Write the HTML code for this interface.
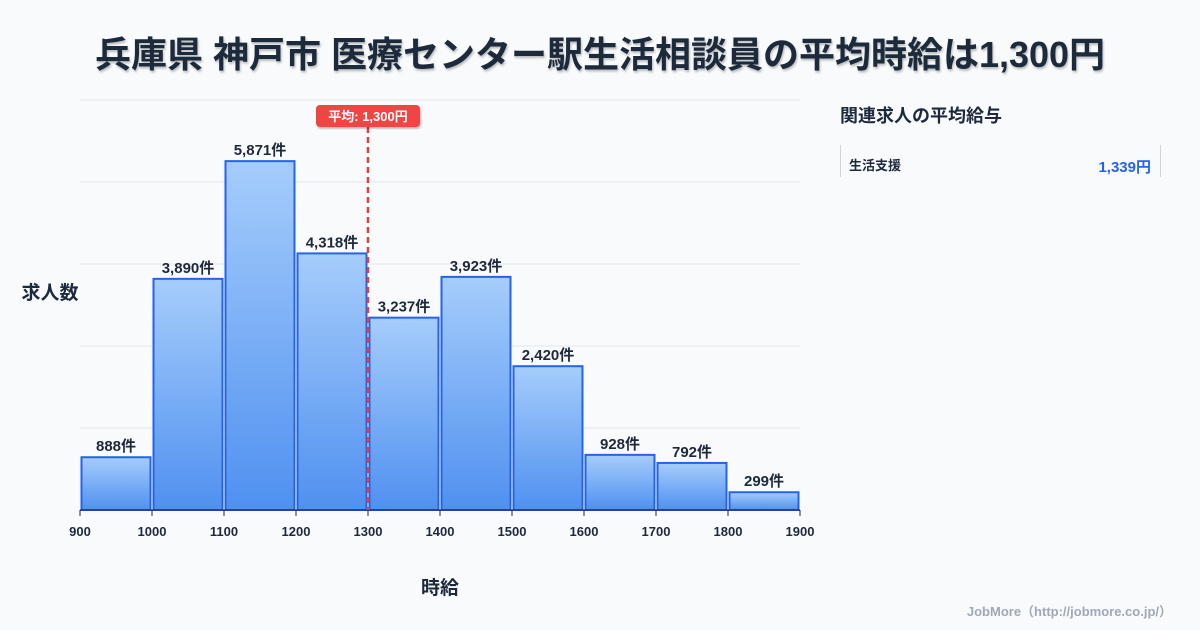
<!DOCTYPE html>
<html><head><meta charset="utf-8"><style>
body{margin:0;width:1200px;height:630px;background:#f8fafc;font-family:"Liberation Sans","Noto Sans CJK JP",sans-serif;overflow:hidden}
svg{position:absolute;left:0;top:0}
</style></head><body>
<svg id="c" width="1200" height="630">
<defs><linearGradient id="g" x1="0" y1="0" x2="0" y2="1"><stop offset="0" stop-color="#a6cdfb"/><stop offset="1" stop-color="#4f90f0"/></linearGradient>
<filter id="sh"><feDropShadow dx="1" dy="2" stdDeviation="1" flood-color="#000" flood-opacity="0.25"/></filter></defs>
<text x="600" y="67" text-anchor="middle" font-size="36" font-weight="bold" fill="#1e293b" filter="url(#sh)">兵庫県 神戸市 医療センター駅生活相談員の平均時給は1,300円</text>
<text x="50" y="299" text-anchor="middle" font-size="19" font-weight="bold" fill="#1e293b">求人数</text>
<text x="440" y="594" text-anchor="middle" font-size="19" font-weight="bold" fill="#1e293b">時給</text>
<text x="840" y="122" font-size="18" font-weight="bold" fill="#1e293b">関連求人の平均給与</text>
<line x1="840.5" y1="145" x2="840.5" y2="177" stroke="#cbd5e1"/>
<line x1="1160.5" y1="145" x2="1160.5" y2="177" stroke="#cbd5e1"/>
<text x="849" y="170" font-size="13" font-weight="bold" fill="#1e293b">生活支援</text>
<text x="1151" y="172" text-anchor="end" font-size="15" font-weight="bold" fill="#2563eb">1,339円</text>
<text x="1172" y="616" text-anchor="end" font-size="13" font-weight="bold" fill="#a0a8b4">JobMore（http://jobmore.co.jp/）</text>
<g id="plot"></g>
</svg>
<script>
const bins=[900,1000,1100,1200,1300,1400,1500,1600,1700,1800];
const counts=[888,3890,5871,4318,3237,3923,2420,928,792,299];
const xTicks=[900,1000,1100,1200,1300,1400,1500,1600,1700,1800,1900];
const avg=1300;
const avgLabel="平均: 1,300円";
const yMax=6900, yGridStep=1380;
const NS="http://www.w3.org/2000/svg";
const x=v=>80+(v-900)*0.72;
const y=v=>510-v*410/yMax;
const g=document.getElementById('plot');
function mk(t,a){const e=document.createElementNS(NS,t);for(const k in a)e.setAttribute(k,a[k]);g.appendChild(e);return e;}
for(let v=yGridStep;v<=yMax+1;v+=yGridStep){
 const l=mk('line',{x1:80,x2:800,y1:y(v),y2:y(v),stroke:'#e2e8f0'});
 
 
}
bins.forEach((b,i)=>{
 const r=mk('rect',{x:x(b)+1.5,y:y(counts[i]),width:x(b+100)-x(b)-3,height:510-y(counts[i]),fill:'url(#g)',stroke:'#2563eb','stroke-width':2});
 
 
 const t=mk('text',{x:(x(b)+x(b+100))/2,y:y(counts[i])-6,'text-anchor':'middle','font-size':15,'font-weight':'bold',fill:'#1e293b'});
 t.textContent=counts[i].toLocaleString('en-US')+'件';
 
 
});
const ax=mk('line',{x1:80,x2:800,y1:510,y2:510,stroke:'#1e293b'});


xTicks.forEach(v=>{
 const tk=mk('line',{x1:x(v),x2:x(v),y1:510,y2:516,stroke:'#1e293b'});
 
 
 const t=mk('text',{x:x(v),y:536,'text-anchor':'middle','font-size':13,'font-weight':'bold',fill:'#1e293b'});
 t.textContent=v;
 
 
});
const al=mk('line',{x1:x(avg),x2:x(avg),y1:127,y2:510,stroke:'#e53e3e','stroke-width':2.5,'stroke-dasharray':'6,4'});


const ab=mk('rect',{x:x(avg)-52,y:105,width:104,height:22,rx:4,fill:'#ef4444',filter:'url(#sh)'});


const at=mk('text',{x:x(avg),y:121,'text-anchor':'middle','font-size':13,'font-weight':'bold',fill:'#fff'});
at.textContent=avgLabel;


</script>
</body></html>
